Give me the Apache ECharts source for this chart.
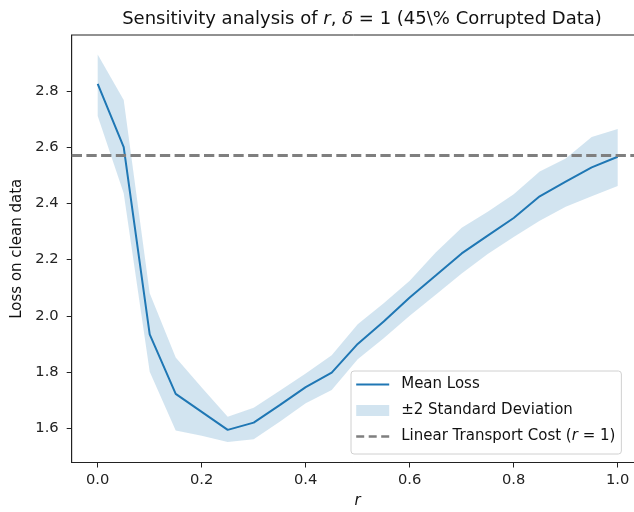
<!DOCTYPE html>
<html>
<head>
<meta charset="utf-8">
<script src="https://cdn.jsdelivr.net/npm/echarts@6/dist/echarts.min.js"></script>
<style>
html,body{margin:0;padding:0;background:#fff}
#chart{width:634px;height:512px}
</style>
</head>
<body>
<div id="chart"></div>
<script>
// r values (x axis)
let rVals = [0, 0.05, 0.1, 0.15, 0.2, 0.25, 0.3, 0.35, 0.4, 0.45, 0.5,
             0.55, 0.6, 0.65, 0.7, 0.75, 0.8, 0.85, 0.9, 0.95, 1.0];
let meanLoss = [2.825, 2.600, 1.934, 1.722, 1.658, 1.594, 1.620, 1.682, 1.746, 1.798, 1.900,
                1.980, 2.065, 2.143, 2.222, 2.285, 2.348, 2.425, 2.477, 2.528, 2.566];
let upperBand = [2.930, 2.768, 2.080, 1.852, 1.745, 1.641, 1.673, 1.733, 1.795, 1.860, 1.970,
                 2.045, 2.125, 2.225, 2.313, 2.370, 2.432, 2.513, 2.560, 2.636, 2.665];
let lowerBand = [2.711, 2.436, 1.801, 1.592, 1.573, 1.551, 1.561, 1.623, 1.689, 1.736, 1.845,
                 1.920, 2.000, 2.075, 2.150, 2.220, 2.280, 2.338, 2.388, 2.425, 2.462];
let linearCost = 2.566;
let xTicks = [0, 0.2, 0.4, 0.6, 0.8, 1.0];
let yTicks = [1.6, 1.8, 2.0, 2.2, 2.4, 2.6, 2.8];

const FONT = 'DejaVu Sans';
const BLUE = '#1f77b4';
const BAND = 'rgba(31,119,180,0.2)';
const nmMean = 'Mean Loss';
const nmBand = '\u00b12 Standard Deviation';
const nmCost = 'Linear Transport Cost (r = 1)';

let meanData = [], bandRows = [];
for (let i = 0; i < rVals.length; i++) {
    meanData.push([rVals[i], meanLoss[i]]);
    bandRows.push([rVals[i], lowerBand[i], upperBand[i]]);
}

// whole fill_between band drawn as one polygon, only on the first item
function renderBand(params, api) {
    if (params.dataIndex !== 0) return null;
    let pts = [];
    for (let i = 0; i < rVals.length; i++) pts.push(api.coord([rVals[i], upperBand[i]]));
    for (let i = rVals.length - 1; i >= 0; i--) pts.push(api.coord([rVals[i], lowerBand[i]]));
    return {
        type: 'polygon',
        shape: {points: pts},
        style: {fill: BAND, stroke: null}
    };
}

let chart = echarts.init(document.getElementById('chart'), null, {renderer: 'canvas'});
let option = {
    animation: false,
    title: {
        text: 'Sensitivity analysis of {i|r}, {i|\u03b4} = 1 (45\\% Corrupted Data)',
        left: 357,
        top: 5,
        textAlign: 'center',
        textStyle: {
            fontFamily: FONT, fontSize: 18, fontWeight: 'normal', color: '#111',
            rich: {i: {fontFamily: FONT, fontSize: 18, fontStyle: 'italic', color: '#111'}}
        }
    },
    grid: {
        left: 71.7, top: 35, width: 572, height: 427.5,
        outerBoundsMode: 'none',
        containLabel: false,
        show: true, borderColor: '#222', borderWidth: 1, backgroundColor: 'transparent'
    },
    legend: {
        orient: 'vertical',
        left: 351, top: 371,
        padding: [5, 6, 9, 4],
        itemGap: 9,
        itemWidth: 33, itemHeight: 11,
        borderColor: '#d0d0d0', borderWidth: 1, borderRadius: 3,
        backgroundColor: 'rgba(255,255,255,0.8)',
        selectedMode: false,
        data: [
            {name: nmMean, itemStyle: {opacity: 0}},
            {name: nmBand, icon: 'rect', itemStyle: {color: BAND}},
            {name: nmCost, itemStyle: {opacity: 0}, lineStyle: {type: [8, 4.5], width: 2.4}}
        ],
        formatter: function (name) {
            if (name === nmCost) return 'Linear Transport Cost ({i|r} = 1)';
            return name;
        },
        textStyle: {
            fontFamily: FONT, fontSize: 15, color: '#111', lineHeight: 17, padding: [0, 0, 0, 7],
            rich: {i: {fontFamily: FONT, fontSize: 15, fontStyle: 'italic', color: '#111', lineHeight: 17}}
        }
    },
    xAxis: {
        type: 'value',
        min: -0.05, max: 1.05,
        name: 'r',
        nameLocation: 'middle',
        nameGap: 31,
        nameTextStyle: {fontFamily: FONT, fontSize: 15, fontStyle: 'italic', color: '#111'},
        axisLine: {show: true, onZero: false, lineStyle: {color: '#222', width: 1}},
        axisTick: {show: true, length: 5, customValues: xTicks, lineStyle: {color: '#222'}},
        axisLabel: {
            customValues: xTicks, margin: 10,
            fontFamily: FONT, fontSize: 14.7, color: '#222',
            formatter: function (v) { return v.toFixed(1); }
        },
        splitLine: {show: false}
    },
    yAxis: {
        type: 'value',
        min: 1.478, max: 2.999,
        name: 'Loss on clean data',
        nameLocation: 'middle',
        nameGap: 46,
        nameTextStyle: {fontFamily: FONT, fontSize: 15, color: '#111'},
        axisLine: {show: true, onZero: false, lineStyle: {color: '#222', width: 1}},
        axisTick: {show: true, length: 5, customValues: yTicks, lineStyle: {color: '#222'}},
        axisLabel: {
            customValues: yTicks, margin: 13,
            fontFamily: FONT, fontSize: 14.7, color: '#222',
            formatter: function (v) { return v.toFixed(1); }
        },
        splitLine: {show: false}
    },
    series: [
        {
            name: nmBand,
            type: 'custom',
            renderItem: renderBand,
            data: bandRows,
            itemStyle: {color: BAND},
            silent: true,
            z: 1
        },
        {
            name: nmMean,
            type: 'line',
            data: meanData,
            symbol: 'none',
            color: BLUE,
            lineStyle: {color: BLUE, width: 2},
            z: 3
        },
        {
            name: nmCost,
            type: 'line',
            data: [],
            symbol: 'none',
            color: '#7f7f7f',
            lineStyle: {color: '#7f7f7f', width: 2.8, type: [10.3, 4.4]},
            markLine: {
                silent: true,
                symbol: 'none',
                label: {show: false},
                lineStyle: {color: '#7f7f7f', width: 2.8, type: [10.3, 4.4]},
                data: [{yAxis: linearCost}]
            },
            z: 2
        }
    ]
};
chart.setOption(option);
</script>
</body>
</html>
